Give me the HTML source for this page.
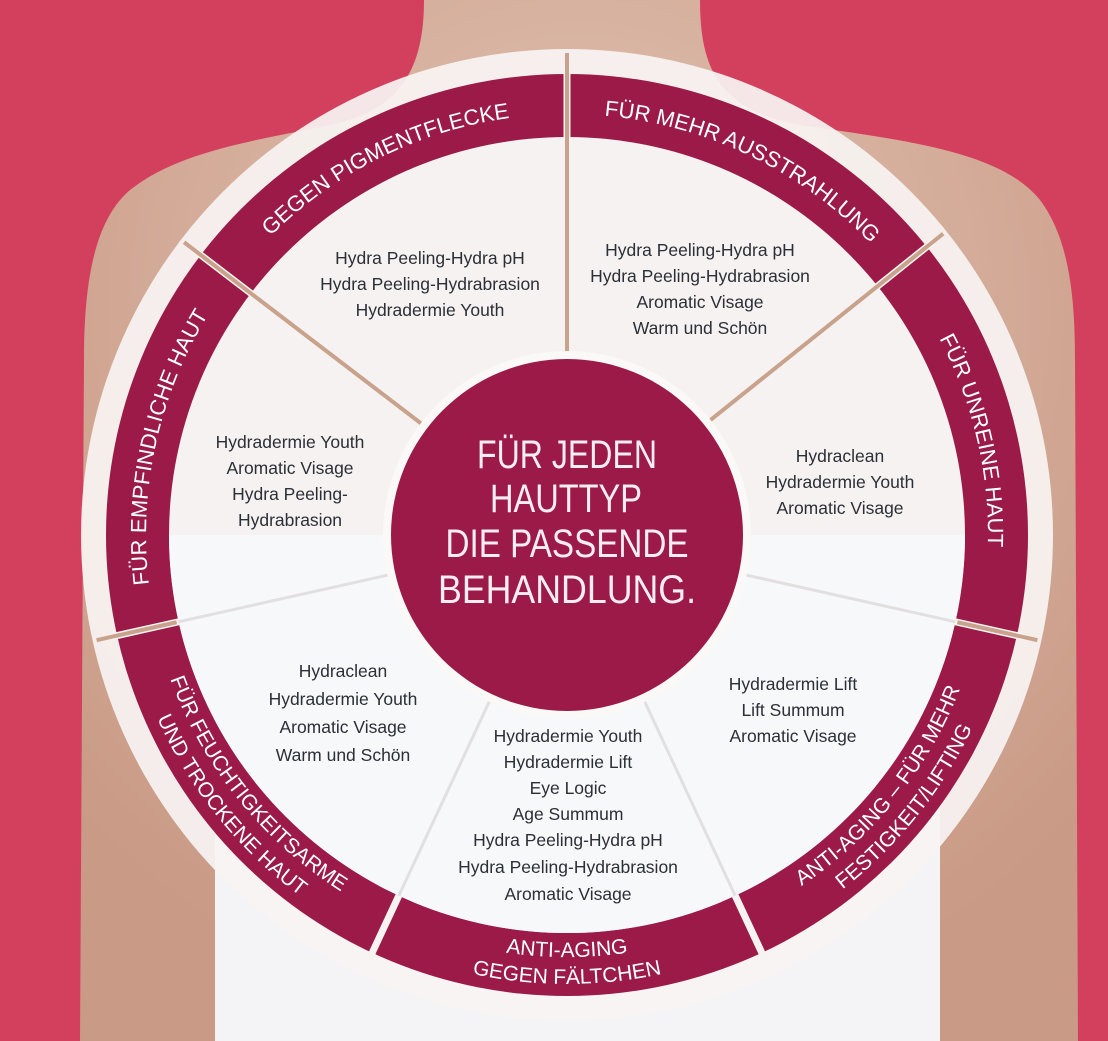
<!DOCTYPE html>
<html><head><meta charset="utf-8"><style>
html,body{margin:0;padding:0;width:1108px;height:1041px;overflow:hidden;background:#d3405d}
svg{display:block}
.band{font-family:"Liberation Sans",sans-serif;fill:#fff;font-size:22px}
.band2{font-family:"Liberation Sans",sans-serif;fill:#fff;font-size:21px}
.in{font-family:"Liberation Sans",sans-serif;fill:#2b2f36;font-size:17.5px;text-anchor:middle}
.ct{font-family:"Liberation Sans",sans-serif;fill:#f8eef2;font-size:40px;text-anchor:middle}
</style></head><body>
<svg width="1108" height="1041" viewBox="0 0 1108 1041" xmlns="http://www.w3.org/2000/svg">
<defs>
<path id="cw" d="M322.5,-270.6 A421,421 0 0 1 322.5,270.6"/>
<path id="ccw1" d="M323.3,271.3 A422,422 0 0 0 323.3,-271.3"/>
<path id="ccw2" d="M343.9,288.6 A449,449 0 0 0 343.9,-288.6"/>
<radialGradient id="sk" cx="0.5" cy="0.3" r="0.7"><stop offset="0" stop-color="#e2c3b3"/><stop offset="1" stop-color="#c99a85"/></radialGradient>
</defs>
<rect width="1108" height="1041" fill="#d3405d"/>
<!-- body -->
<path d="M424,0 L700,0 C700,70 720,110 800,125 C900,140 1000,150 1040,200 C1070,240 1075,300 1075,360 L1078,1041 L80,1041 L84,360 C84,280 95,220 130,190 C180,150 260,140 330,125 C400,110 424,70 424,0 Z" fill="url(#sk)"/>
<path d="M215,520 C400,480 760,480 940,520 L940,1041 L215,1041 Z" fill="#f4f4f6"/>
<g transform="translate(567,535)">
<circle r="486" fill="#f7f3f2" opacity="0.93"/>
<circle r="461" fill="#9b1a47"/>
<circle r="398" fill="#f6f2f2"/>
<path d="M-398,0 A398,398 0 0 0 398,0 Z" fill="#f7f8fa"/>
<!-- dividers -->
<g stroke="#f7f3f2" stroke-width="7">
<line x1="396" y1="0" x2="470" y2="0" transform="rotate(-142.6)"/>
<line x1="396" y1="0" x2="470" y2="0" transform="rotate(-90)"/>
<line x1="396" y1="0" x2="470" y2="0" transform="rotate(-38.7)"/>
<line x1="396" y1="0" x2="470" y2="0" transform="rotate(12.6)"/>
<line x1="396" y1="0" x2="470" y2="0" transform="rotate(65)"/>
<line x1="396" y1="0" x2="470" y2="0" transform="rotate(115)"/>
<line x1="396" y1="0" x2="470" y2="0" transform="rotate(167.4)"/>
</g>
<g stroke="#c9a28c" stroke-width="4">
<line x1="176" y1="0" x2="482" y2="0" transform="rotate(-142.6)"/>
<line x1="176" y1="0" x2="482" y2="0" transform="rotate(-90)"/>
<line x1="176" y1="0" x2="482" y2="0" transform="rotate(-38.7)"/>
<line x1="400" y1="0" x2="482" y2="0" transform="rotate(12.6)"/>
<line x1="400" y1="0" x2="482" y2="0" transform="rotate(167.4)"/>
</g>
<g stroke="#e2dfe0" stroke-width="3">
<line x1="176" y1="0" x2="398" y2="0" transform="rotate(12.6)"/>
<line x1="176" y1="0" x2="398" y2="0" transform="rotate(167.4)"/>
<line x1="176" y1="0" x2="398" y2="0" transform="rotate(65)"/>
<line x1="176" y1="0" x2="398" y2="0" transform="rotate(115)"/>
</g>
<circle r="184" fill="#fbf8f8"/>
<circle r="176" fill="#9b1a47"/>
<!-- band texts -->
<g transform="rotate(-116.3)"><text class="band"><textPath href="#cw" startOffset="50%" text-anchor="middle">GEGEN PIGMENTFLECKE</textPath></text></g>
<g transform="rotate(-64.35)"><text class="band"><textPath href="#cw" startOffset="50%" text-anchor="middle">FÜR MEHR AUSSTRAHLUNG</textPath></text></g>
<g transform="rotate(-13.1)"><text class="band"><textPath href="#cw" startOffset="50%" text-anchor="middle">FÜR UNREINE HAUT</textPath></text></g>
<g transform="rotate(192.4)"><text class="band"><textPath href="#cw" startOffset="50%" text-anchor="middle">FÜR EMPFINDLICHE HAUT</textPath></text></g>
<g transform="rotate(38.8)"><text class="band2"><textPath href="#ccw1" startOffset="50%" text-anchor="middle">ANTI-AGING – FÜR MEHR</textPath></text><text class="band2"><textPath href="#ccw2" startOffset="50%" text-anchor="middle">FESTIGKEIT/LIFTING</textPath></text></g>
<g transform="rotate(90)"><text class="band2"><textPath href="#ccw1" startOffset="50%" text-anchor="middle">ANTI-AGING</textPath></text><text class="band2"><textPath href="#ccw2" startOffset="50%" text-anchor="middle">GEGEN FÄLTCHEN</textPath></text></g>
<g transform="rotate(141.2)"><text class="band2"><textPath href="#ccw1" startOffset="50%" text-anchor="middle">FÜR FEUCHTIGKEITSARME</textPath></text><text class="band2"><textPath href="#ccw2" startOffset="50%" text-anchor="middle">UND TROCKENE HAUT</textPath></text></g>
</g>
<!-- center text -->
<text class="ct" x="567" y="468" textLength="180" lengthAdjust="spacingAndGlyphs">FÜR JEDEN</text>
<text class="ct" x="566" y="512" textLength="152" lengthAdjust="spacingAndGlyphs">HAUTTYP</text>
<text class="ct" x="567" y="557" textLength="243" lengthAdjust="spacingAndGlyphs">DIE PASSENDE</text>
<text class="ct" x="567" y="603" textLength="258" lengthAdjust="spacingAndGlyphs">BEHANDLUNG.</text>
<!-- inner texts -->
<text class="in" x="430" y="264">Hydra Peeling-Hydra pH</text>
<text class="in" x="430" y="290">Hydra Peeling-Hydrabrasion</text>
<text class="in" x="430" y="316">Hydradermie Youth</text>
<text class="in" x="700" y="256">Hydra Peeling-Hydra pH</text>
<text class="in" x="700" y="282">Hydra Peeling-Hydrabrasion</text>
<text class="in" x="700" y="308">Aromatic Visage</text>
<text class="in" x="700" y="334">Warm und Schön</text>
<text class="in" x="290" y="448">Hydradermie Youth</text>
<text class="in" x="290" y="474">Aromatic Visage</text>
<text class="in" x="290" y="500">Hydra Peeling-</text>
<text class="in" x="290" y="526">Hydrabrasion</text>
<text class="in" x="840" y="462">Hydraclean</text>
<text class="in" x="840" y="488">Hydradermie Youth</text>
<text class="in" x="840" y="514">Aromatic Visage</text>
<text class="in" x="343" y="677">Hydraclean</text>
<text class="in" x="343" y="705">Hydradermie Youth</text>
<text class="in" x="343" y="733">Aromatic Visage</text>
<text class="in" x="343" y="761">Warm und Schön</text>
<text class="in" x="793" y="690">Hydradermie Lift</text>
<text class="in" x="793" y="716">Lift Summum</text>
<text class="in" x="793" y="742">Aromatic Visage</text>
<text class="in" x="568" y="742">Hydradermie Youth</text>
<text class="in" x="568" y="768">Hydradermie Lift</text>
<text class="in" x="568" y="794">Eye Logic</text>
<text class="in" x="568" y="820">Age Summum</text>
<text class="in" x="568" y="846">Hydra Peeling-Hydra pH</text>
<text class="in" x="568" y="873">Hydra Peeling-Hydrabrasion</text>
<text class="in" x="568" y="900">Aromatic Visage</text>
</svg>
</body></html>
